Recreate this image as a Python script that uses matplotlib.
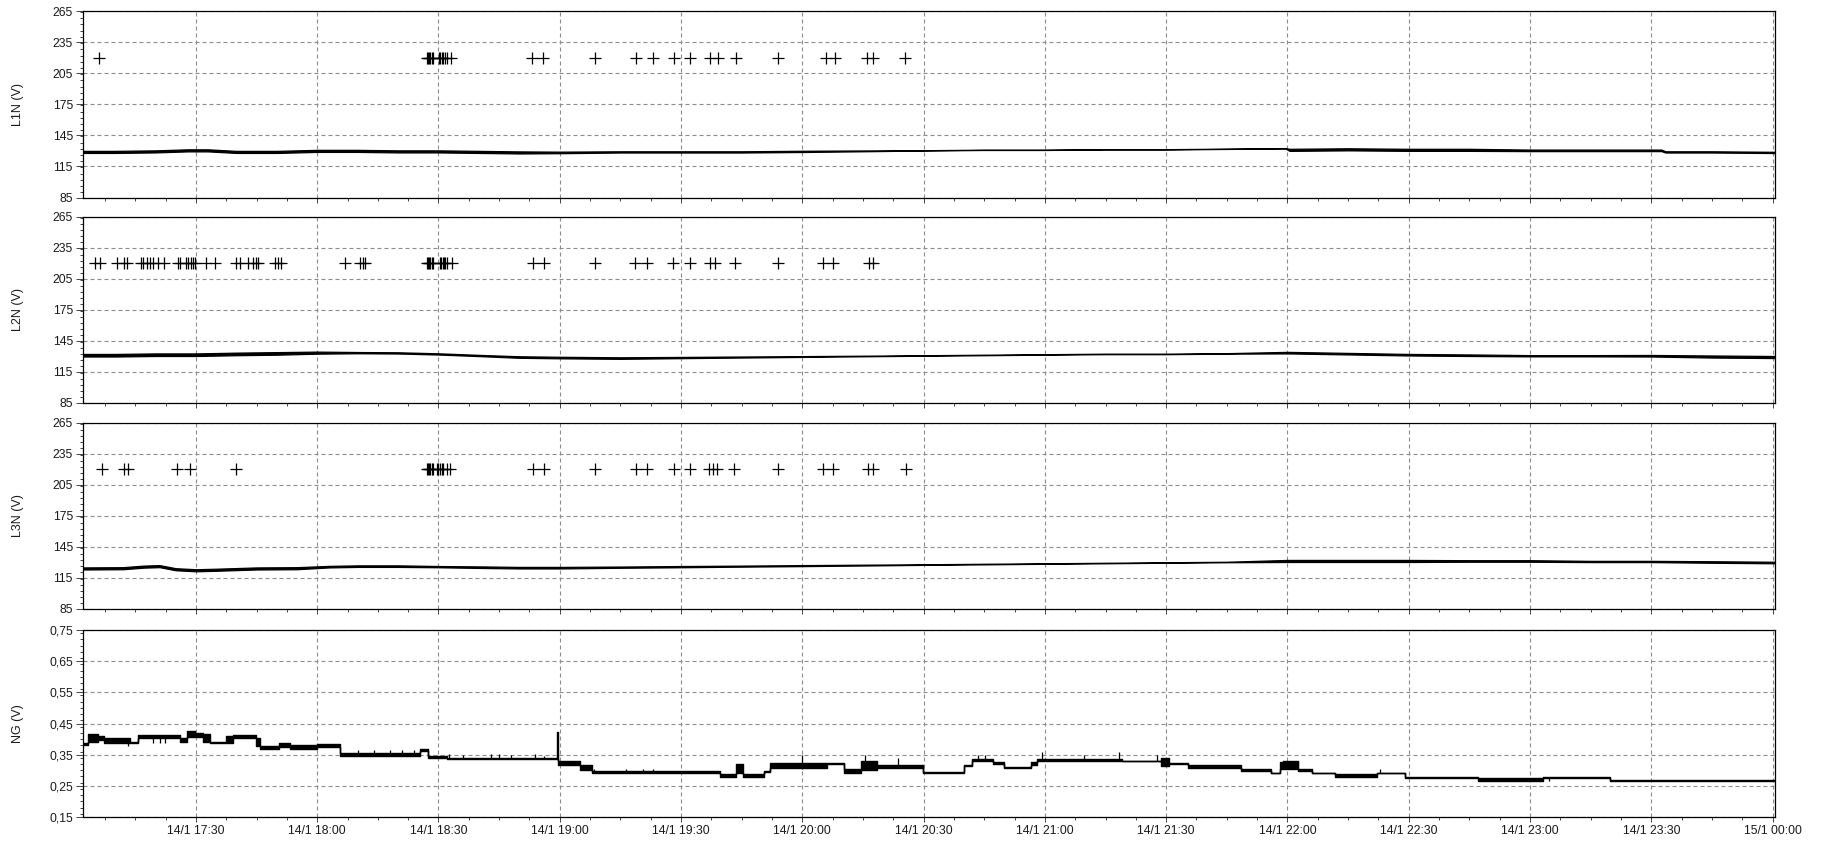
import matplotlib
matplotlib.use("Agg")
import matplotlib.pyplot as plt
from matplotlib.ticker import FixedLocator, MultipleLocator, NullFormatter
import numpy as np

plt.rcParams["font.family"] = ["Liberation Sans", "DejaVu Sans"]

# ---- time axis (minutes after 14/1 17:00) ----
x_start, x_end = 2.0, 420.6
major_ticks = [30, 60, 90, 120, 150, 180, 210, 240, 270, 300, 330, 360, 390, 420]
major_labels = ["14/1 17:30", "14/1 18:00", "14/1 18:30", "14/1 19:00", "14/1 19:30",
                "14/1 20:00", "14/1 20:30", "14/1 21:00", "14/1 21:30", "14/1 22:00",
                "14/1 22:30", "14/1 23:00", "14/1 23:30", "15/1 00:00"]

# ---- phase voltages: mid level and width of the noise band (V) ----
l1n_t = [2, 10, 20, 28, 33, 40, 50, 60, 70, 80, 90, 100, 110, 120, 135, 150, 165, 180, 195, 210,
         225, 240, 255, 270, 285, 299.5, 300.5, 315, 330, 345, 360, 375, 390, 392.5, 393.5, 405, 420.6]
l1n_mid = [129, 129, 129.5, 130.5, 130.5, 129, 129, 130, 130, 129.5, 129.5, 129, 128.5, 128.5, 129, 129,
           129, 129.5, 130, 130.5, 131, 131, 131.5, 131.5, 132, 132.5, 131, 131.5, 131, 131, 130.5, 130.5,
           130.5, 130.5, 129, 129, 128.5]
l1n_band = [2, 2, 2, 2, 2, 2, 2, 2, 2, 2, 2, 2, 2, 1.5, 1.2, 1.2, 1.2, 1.2, 0.8, 0.3, 0.3, 0.3, 0.3, 0.3,
            0.3, 0.3, 2, 2, 2, 2, 1.5, 1.5, 1.5, 1.5, 1.2, 1.2, 1.2]

l2n_t = [2, 10, 20, 30, 40, 50, 60, 70, 80, 90, 100, 110, 120, 135, 150, 165, 180, 195, 210, 225, 240,
         255, 270, 285, 300, 315, 330, 345, 360, 375, 390, 405, 420.6]
l2n_mid = [130.75, 130.75, 131.25, 131.25, 132, 132.5, 133.25, 133.25, 133, 132, 130.5, 129, 128.5, 128,
           128.5, 129, 129.5, 130, 130.5, 131, 131.5, 132, 132, 132.5, 133.25, 132.25, 131.25, 130.75,
           130.25, 130.25, 130.25, 129.5, 129]
l2n_band = [2.5, 2.5, 2.5, 2.5, 2.5, 2.5, 2, 1.2, 1.2, 1.2, 1.2, 1.5, 1.5, 1.5, 1.2, 1.0, 0.8, 0.6, 0.5,
            0.5, 0.5, 0.5, 0.5, 0.5, 1.5, 1.5, 1.5, 1.5, 1.2, 1.2, 1.5, 2, 2]

l3n_t = [2, 12, 17, 21, 25, 30, 35, 45, 55, 63, 70, 80, 90, 100, 110, 120, 135, 150, 165, 180, 195, 210,
         225, 240, 255, 270, 285, 300, 315, 330, 345, 360, 375, 390, 405, 420.6]
l3n_mid = [123.75, 124, 125.5, 126, 123, 122, 122.5, 123.75, 124, 125.5, 126, 126, 125.5, 125, 124.5,
           124.5, 125, 125.5, 126, 126.5, 127, 127.5, 128, 128.5, 129, 129.5, 130, 131, 131, 131, 131, 131,
           130.5, 130.5, 130, 129.5]
l3n_band = [2, 2, 2, 2, 2, 2, 2, 2, 2, 1.5, 1.5, 1.5, 1.2, 1.5, 1.5, 1.5, 1.2, 1.2, 1.0, 1.0, 0.8, 0.6,
            0.6, 0.5, 0.5, 0.5, 0.5, 2, 2, 2, 1.5, 1.5, 1.2, 1.2, 1.5, 1.5]

# ---- neutral-ground voltage: stepwise envelope (segment start, min, max) ----
ng_t = [2.0, 3.4, 5.8, 7.2, 13.8, 15.7, 26.0, 27.9, 29.8, 31.7, 33.6, 37.4, 39.2, 44.9, 45.8, 50.6, 53.4,
        60.0, 65.7, 85.5, 87.4, 92.1, 119.2, 119.6, 125.1, 127.9, 159.7, 163.5, 165.4, 170.6, 172.0, 186.1,
        190.4, 194.6, 198.4, 209.8, 220.1, 222.0, 227.2, 230.0, 236.6, 238.0, 259.2, 268.7, 270.6, 275.3,
        288.5, 296.0, 298.2, 299.0, 302.7, 306.0, 308.9, 311.8, 322.1, 329.1, 347.2, 363.3, 379.8, 420.6]
ng_lo = [0.380, 0.392, 0.397, 0.388, 0.388, 0.404, 0.390, 0.407, 0.407, 0.390, 0.388, 0.388, 0.405, 0.378,
         0.369, 0.375, 0.369, 0.375, 0.347, 0.362, 0.340, 0.335, 0.335, 0.316, 0.300, 0.291, 0.277, 0.291,
         0.277, 0.294, 0.308, 0.320, 0.291, 0.300, 0.306, 0.291, 0.315, 0.329, 0.321, 0.307, 0.316, 0.330,
         0.329, 0.315, 0.320, 0.307, 0.297, 0.290, 0.305, 0.305, 0.298, 0.290, 0.290, 0.278, 0.290, 0.275,
         0.267, 0.275, 0.266, 0.266]
ng_hi = [0.388, 0.415, 0.410, 0.402, 0.390, 0.413, 0.405, 0.425, 0.419, 0.415, 0.390, 0.410, 0.413, 0.405,
         0.378, 0.386, 0.381, 0.383, 0.356, 0.369, 0.346, 0.339, 0.423, 0.330, 0.316, 0.298, 0.289, 0.320,
         0.289, 0.296, 0.322, 0.322, 0.303, 0.330, 0.318, 0.293, 0.317, 0.336, 0.328, 0.310, 0.325, 0.336,
         0.331, 0.340, 0.322, 0.318, 0.305, 0.292, 0.326, 0.330, 0.305, 0.292, 0.292, 0.289, 0.292, 0.277,
         0.275, 0.277, 0.268, 0.268]

# short single-sample excursions of the NG signal (time, from, to)
ng_spike_t = [13.3, 19.4, 21.0, 22.3, 70, 74, 78, 81, 84, 92.5, 96, 103, 105, 108, 114, 116, 128.4, 136.4,
              140.7, 143, 180, 195.5, 203.6, 223.4, 225.3, 239.4, 249.8, 258.4, 267.8, 302.7, 322.9, 364.8]
ng_spike_lo = [0.378, 0.388, 0.388, 0.388, 0.347, 0.347, 0.347, 0.347, 0.347, 0.335, 0.335, 0.335, 0.335,
               0.335, 0.335, 0.335, 0.291, 0.291, 0.291, 0.291, 0.305, 0.300, 0.306, 0.330, 0.330, 0.330,
               0.330, 0.330, 0.330, 0.300, 0.291, 0.267]
ng_spike_hi = [0.390, 0.404, 0.404, 0.404, 0.364, 0.364, 0.364, 0.364, 0.364, 0.353, 0.348, 0.353, 0.353,
               0.348, 0.353, 0.345, 0.305, 0.305, 0.305, 0.305, 0.348, 0.348, 0.340, 0.350, 0.350, 0.360,
               0.350, 0.360, 0.348, 0.330, 0.305, 0.276]

# ---- event markers (minutes after 17:00), drawn at 220 V ----
event_level = 220
l1n_events = [6.1, 87.1, 87.4, 87.7, 88.0, 88.3, 88.6, 90.2, 90.5, 90.8, 91.1, 91.5, 92.2, 93.0,
              113.1, 115.9, 128.8, 138.9, 143.0, 148.3, 152.3, 157.2, 159.2, 163.6, 173.9,
              185.9, 188.1, 196.0, 197.4, 205.4]
l2n_events = [5.1, 6.2, 10.6, 12.1, 12.9, 16.4, 17.0, 17.9, 18.7, 19.5, 20.7, 22.1, 25.5, 26.1, 27.6,
              28.1, 28.7, 29.2, 29.7, 32.5, 34.7, 39.9, 41.0, 43.0, 44.2, 44.9, 45.3, 49.6, 50.4, 51.1,
              66.9, 70.5, 71.3, 71.9, 87.1, 87.4, 87.7, 88.0, 88.3, 88.6, 90.4, 90.7, 91.0, 91.4, 91.7,
              92.0, 93.3, 113.5, 116.2, 128.6, 138.6, 141.5, 148.1, 152.3, 157.2, 158.4, 163.4, 173.9,
              185.2, 187.7, 196.4, 197.6]
l3n_events = [6.8, 12.1, 13.3, 25.3, 28.5, 39.9, 87.1, 87.4, 87.7, 88.0, 88.3, 88.6, 89.6, 90.0, 90.4,
              90.8, 91.2, 92.1, 92.9, 113.5, 116.1, 128.6, 138.8, 141.7, 148.3, 152.2, 156.8, 158.0,
              158.9, 163.2, 173.9, 185.1, 187.7, 196.2, 197.6, 205.7]

v_ticks = [85, 115, 145, 175, 205, 235, 265]
ng_ticks = [0.15, 0.25, 0.35, 0.45, 0.55, 0.65, 0.75]
ng_tick_labels = ["0,15", "0,25", "0,35", "0,45", "0,55", "0,65", "0,75"]

# ---- layout (pixel rows of each panel) ----
W, H = 1828, 844
fig = plt.figure(figsize=(W / 100, H / 100), dpi=100)
rows = [(11, 197.5), (216.5, 402.5), (422.5, 608.5), (630, 817)]
x0, x1 = 82.7, 1775
ylabels = ["L1N (V)", "L2N (V)", "L3N (V)", "NG (V)"]

grid_kw = dict(color="#8c8c8c", lw=0.8, ls=(0, (3.6, 2.7)))
text_col = "#1a1a1a"

axes = []
for i, (top, bot) in enumerate(rows):
    ax = fig.add_axes([x0 / W, 1 - bot / H, (x1 - x0) / W, (bot - top) / H])
    ax.set_xlim(x_start, x_end)
    ax.xaxis.set_major_locator(FixedLocator(major_ticks))
    ax.xaxis.set_minor_locator(MultipleLocator(7.5))
    if i == 3:
        ax.set_xticklabels(major_labels)
    else:
        ax.xaxis.set_major_formatter(NullFormatter())
    ax.grid(True, which="major", **grid_kw)
    ax.tick_params(axis="x", which="major", direction="out", length=3.6, width=0.7,
                   labelsize=8.8, pad=2.5, colors="#444444", labelcolor=text_col)
    ax.tick_params(axis="x", which="minor", direction="out", length=2.2, width=0.7, colors="#444444")
    ax.tick_params(axis="y", which="major", direction="out", length=5, width=0.7,
                   labelsize=8.8, pad=2, colors="#444444", labelcolor=text_col)
    ax.tick_params(axis="y", which="minor", direction="out", length=2.2, width=0.7, colors="#444444")
    for s in ax.spines.values():
        s.set_linewidth(0.9)
        s.set_color("black")
    fig.text(18 / W, 1 - (top + bot) / 2 / H, ylabels[i], rotation=90, ha="center", va="center",
             fontsize=9, color=text_col)
    axes.append(ax)

volt_series = [(l1n_t, l1n_mid, l1n_band, l1n_events),
               (l2n_t, l2n_mid, l2n_band, l2n_events),
               (l3n_t, l3n_mid, l3n_band, l3n_events)]
for ax, (t, mid, band, ev) in zip(axes[:3], volt_series):
    ax.set_ylim(85, 265)
    ax.yaxis.set_major_locator(FixedLocator(v_ticks))
    ax.yaxis.set_minor_locator(MultipleLocator(6))
    mid = np.asarray(mid)
    half = np.asarray(band) / 2
    ax.fill_between(t, mid - half, mid + half, facecolor="black", edgecolor="black",
                    lw=0.9, zorder=3)
    ax.plot(ev, [event_level] * len(ev), ls="none", marker="+", ms=9, mew=0.9,
            color="black", zorder=4)

ax = axes[3]
ax.set_ylim(0.15, 0.75)
ax.yaxis.set_major_locator(FixedLocator(ng_ticks))
ax.set_yticklabels(ng_tick_labels)
ax.yaxis.set_minor_locator(MultipleLocator(0.02))
ax.fill_between(ng_t, ng_lo, ng_hi, step="post", facecolor="black", edgecolor="black",
                lw=1.0, zorder=3)
ax.vlines(ng_spike_t, ng_spike_lo, ng_spike_hi, color="black", lw=0.9, zorder=3)

fig.savefig("out.png", dpi=100)
